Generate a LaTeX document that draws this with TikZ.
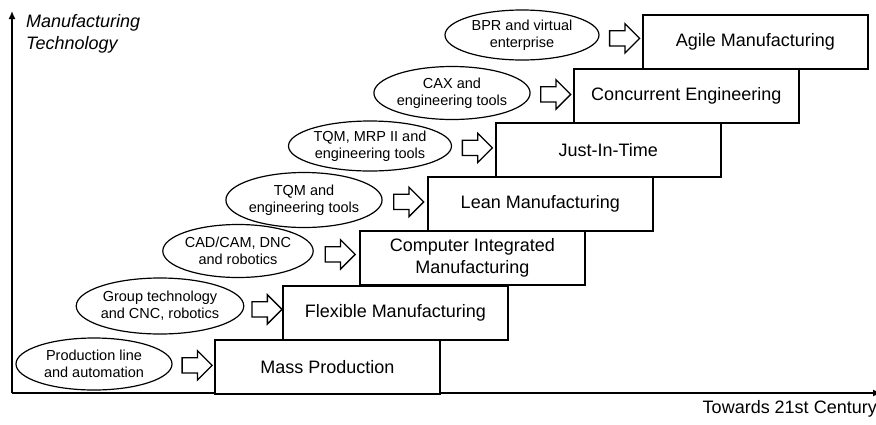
\documentclass[tikz,border=0pt]{standalone}
\usepackage{fontspec}
\setmainfont{Liberation Sans}
\usetikzlibrary{shapes.geometric,shapes.arrows,arrows.meta,calc}
\begin{document}
\begin{tikzpicture}[x=1pt,y=-1pt,
  stage/.style={draw,line width=1.6pt,minimum width=225pt,minimum height=54pt,
    inner sep=0pt,anchor=north west,align=center,fill=white,
    font=\fontsize{18}{22}\selectfont},
  enabler/.style={draw,ellipse,line width=1.2pt,inner sep=0pt,align=center,
    font=\fontsize{14.5}{17}\selectfont},
  push/.style={draw,single arrow,line width=1.3pt,single arrow head extend=7pt,
    text height=7pt,text depth=7pt,text width=0pt,minimum height=30pt,inner sep=0pt},
  axis/.style={line width=1.5pt}
]
\useasboundingbox (0,0) rectangle (876,424);

% axes
\coordinate (origin) at (12,393);
\coordinate (ytop) at (12,11);
\coordinate (xend) at (881,393);
\draw[axis,-{Latex[length=8pt,width=7pt]}] (origin) -- (ytop);
\draw[axis,-{Latex[length=8pt,width=7pt]}] (origin) -- (xend);
\node[anchor=north west,inner sep=0pt,align=left,
  font=\fontsize{18}{22}\selectfont\itshape] (ylab) at (26,14)
  {Manufacturing\\Technology};
\node[anchor=base east,inner sep=0pt,font=\fontsize{18}{22}\selectfont]
  (xlab) at (877,413) {Towards 21st Century};

% stages of manufacturing technology
\node[stage] (mass)  at (214,339) {Mass Production};
\node[stage] (flex)  at (282,285) {Flexible Manufacturing};
\node[stage] (cim)   at (359,230) {Computer Integrated\\Manufacturing};
\node[stage] (lean)  at (427,176) {Lean Manufacturing};
\node[stage] (jit)   at (495,122) {Just-In-Time};
\node[stage] (conc)  at (573,68)  {Concurrent Engineering};
\node[stage] (agile) at (642,14)  {Agile Manufacturing};

% enabling technologies
\node[enabler,minimum width=156pt,minimum height=52pt] (e1) at (94,364)
  {Production line\\and automation};
\node[enabler,minimum width=163pt,minimum height=56pt] (e2) at (160,306)
  {Group technology\\and CNC, robotics};
\node[enabler,minimum width=150pt,minimum height=53pt] (e3) at (238,251)
  {CAD/CAM, DNC\\and robotics};
\node[enabler,minimum width=151pt,minimum height=55pt] (e4) at (304,200)
  {TQM and\\engineering tools};
\node[enabler,minimum width=163pt,minimum height=50pt] (e5) at (370,146)
  {TQM, MRP II and\\engineering tools};
\node[enabler,minimum width=151pt,minimum height=53pt] (e6) at (452,93)
  {CAX and\\engineering tools};
\node[enabler,minimum width=154pt,minimum height=50pt] (e7) at (522,35)
  {BPR and virtual\\enterprise};

% block arrows from each enabler to its stage
\node[push] (a1) at ($(e1.east)!0.5!(mass.west)$) {};
\node[push] (a2) at ($(e2.east)!0.5!(flex.west)$) {};
\node[push] (a3) at ($(e3.east)!0.5!(cim.west)$) {};
\node[push] (a4) at ($(e4.east)!0.5!(lean.west)$) {};
\node[push] (a5) at ($(e5.east)!0.5!(jit.west)$) {};
\node[push] (a6) at ($(e6.east)!0.5!(conc.west)$) {};
\node[push] (a7) at ($(e7.east)!0.5!(agile.west)$) {};
\end{tikzpicture}
\end{document}
